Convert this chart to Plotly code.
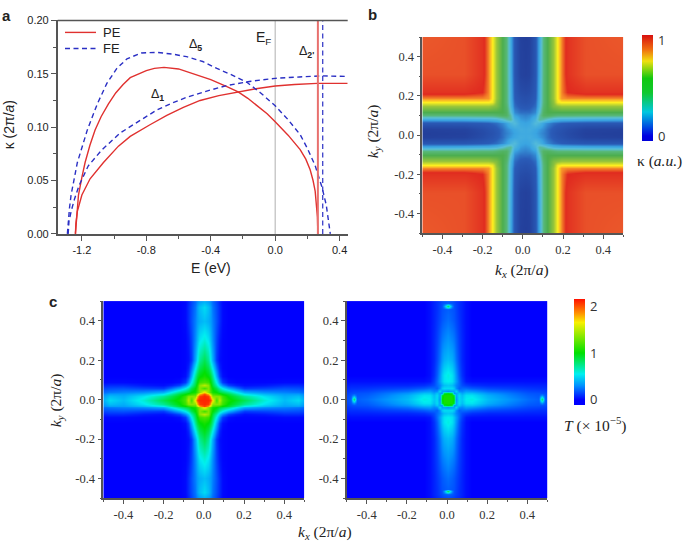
import numpy as np
import plotly.graph_objects as go

W, H = 685, 548

# panel a: energy (eV), kappa (2pi/a)
pe_d5_e = [-1.24, -1.236, -1.23, -1.221, -1.2, -1.18, -1.15, -1.118, -1.08, -1.035, -0.99, -0.944, -0.9, -0.8, -0.75, -0.69, -0.6, -0.5, -0.4, -0.3, -0.23, -0.17, -0.11, -0.05, 0.0, 0.08, 0.155, 0.19, 0.217, 0.235, 0.248, 0.262, 0.265]
pe_d5_k = [0.0, 0.01, 0.022, 0.0364, 0.053, 0.0669, 0.083, 0.0974, 0.11, 0.1218, 0.132, 0.14, 0.1463, 0.153, 0.155, 0.156, 0.1545, 0.1495, 0.1445, 0.138, 0.133, 0.127, 0.12, 0.1125, 0.105, 0.0925, 0.079, 0.07, 0.06, 0.05, 0.04, 0.016, 0.0]
pe_d1_e = [-1.24, -1.237, -1.228, -1.2, -1.149, -1.066, -0.973, -0.9, -0.78, -0.673, -0.57, -0.466, -0.35, -0.23, -0.12, 0.0, 0.12, 0.26, 0.45]
pe_d1_k = [0.0, 0.01, 0.0211, 0.0364, 0.0516, 0.0669, 0.0822, 0.0913, 0.102, 0.111, 0.1185, 0.125, 0.1295, 0.133, 0.136, 0.1385, 0.14, 0.141, 0.141]
fe_d5_e = [-1.29, -1.285, -1.277, -1.267, -1.228, -1.166, -1.104, -1.045, -0.983, -0.92, -0.83, -0.735, -0.64, -0.55, -0.45, -0.362, -0.27, -0.176, -0.09, 0.0, 0.08, 0.155, 0.2, 0.248, 0.29, 0.317, 0.335, 0.342]
fe_d5_k = [0.0, 0.012, 0.024, 0.0364, 0.0669, 0.0974, 0.1218, 0.141, 0.155, 0.164, 0.1695, 0.17, 0.1685, 0.166, 0.1615, 0.155, 0.149, 0.142, 0.132, 0.12, 0.107, 0.093, 0.08, 0.064, 0.044, 0.027, 0.01, 0.0]
fe_d1_e = [-1.285, -1.28, -1.265, -1.245, -1.217, -1.16, -1.077, -0.963, -0.9, -0.735, -0.64, -0.549, -0.42, -0.3, -0.15, 0.0, 0.15, 0.29, 0.45]
fe_d1_k = [0.0, 0.012, 0.022, 0.033, 0.0455, 0.0638, 0.0785, 0.0944, 0.1005, 0.116, 0.1225, 0.128, 0.134, 0.139, 0.143, 0.1457, 0.147, 0.148, 0.1475]
pe_d2_e = 0.265
fe_d2_e = 0.295
fermi_e = 0.0

# panel b, one quadrant of the map, mirrored about its centre
kb = [0, 0.02, 0.05, 0.07, 0.09, 0.11, 0.14, 0.16, 0.18, 0.21, 0.3, 0.52]
zb = [
    [.22, .22, .20, .18, .16, .14, .10, .08, .07, .05, .01, .00],
    [.22, .23, .21, .19, .17, .14, .11, .09, .08, .06, .02, .01],
    [.20, .21, .28, .25, .20, .17, .14, .13, .12, .11, .10, .10],
    [.18, .19, .25, .38, .36, .31, .26, .25, .24, .24, .23, .22],
    [.16, .17, .20, .36, .47, .48, .45, .43, .43, .43, .42, .42],
    [.14, .14, .17, .31, .48, .53, .53, .53, .53, .53, .53, .53],
    [.10, .11, .14, .26, .45, .53, .60, .62, .64, .64, .64, .64],
    [.08, .09, .13, .25, .43, .53, .62, .74, .76, .76, .76, .76],
    [.07, .08, .12, .24, .43, .53, .64, .76, .84, .85, .85, .85],
    [.05, .06, .11, .24, .43, .53, .64, .76, .85, .90, .92, .92],
    [.01, .02, .10, .23, .42, .53, .64, .76, .85, .92, .98, .98],
    [.00, .01, .10, .22, .42, .53, .64, .76, .85, .92, .98, 1.0],
]
centre_b = 0.01

# panel c left
kc1 = [0, .02, .03, .04, .06, .075, .09, .12, .16, .2, .3, .4, .47, .52]
zc1 = [
    [2.1, 2.1, 2.05, 1.7, 1.15, 1.5, 1.2, 1.05, .95, .85, .6, .42, .5, .3],
    [2.1, 2.05, 1.8, 1.35, 1.35, 1.35, 1.15, .98, .85, .72, .52, .38, .42, .27],
    [2.05, 1.8, 1.5, 1.2, 1.15, 1.1, 1.0, .9, .72, .55, .42, .34, .35, .24],
    [1.7, 1.35, 1.2, 1.05, 1.0, .9, .85, .74, .55, .38, .3, .27, .25, .2],
    [1.15, 1.35, 1.15, 1.0, .85, .68, .55, .38, .24, .12, .14, .17, .16, .13],
    [1.5, 1.35, 1.1, .9, .68, .45, .3, .14, .07, .03, .05, .09, .09, .06],
    [1.2, 1.15, 1.0, .85, .55, .3, .12, .03, .01, .01, .01, .02, .02, .01],
    [1.05, .98, .9, .74, .38, .14, .03, 0, 0, 0, 0, 0, 0, 0],
    [.95, .85, .72, .55, .24, .07, .01, 0, 0, 0, 0, 0, 0, 0],
    [.85, .72, .55, .38, .12, .03, .01, 0, 0, 0, 0, 0, 0, 0],
    [.6, .52, .42, .3, .14, .05, .01, 0, 0, 0, 0, 0, 0, 0],
    [.42, .38, .34, .27, .17, .09, .02, 0, 0, 0, 0, 0, 0, 0],
    [.5, .42, .35, .25, .16, .09, .02, 0, 0, 0, 0, 0, 0, 0],
    [.3, .27, .24, .2, .13, .06, .01, 0, 0, 0, 0, 0, 0, 0],
]

# panel c right
kc2 = [0, .02, .03, .04, .055, .07, .09, .12, .2, .3, .4, .455, .47, .485, .52]
zc2 = [
    [1.05, 1.05, 1.0, .3, .5, .45, .55, .58, .42, .32, .23, .2, .85, .2, .12],
    [1.05, 1.05, .9, .35, .5, .42, .52, .52, .38, .28, .2, .18, .3, .18, .11],
    [1.0, .9, .3, .35, .45, .36, .44, .44, .32, .25, .18, .17, .17, .16, .1],
    [.3, .35, .35, .5, .3, .28, .34, .32, .24, .2, .15, .14, .14, .13, .09],
    [.5, .5, .45, .3, .2, .22, .22, .19, .15, .13, .11, .1, .1, .1, .07],
    [.45, .42, .36, .28, .22, .16, .13, .1, .08, .08, .07, .07, .07, .07, .05],
    [.55, .52, .44, .34, .22, .13, .05, .03, .03, .03, .03, .03, .03, .03, .02],
    [.58, .52, .44, .32, .19, .1, .03, 0, 0, 0, 0, 0, 0, 0, 0],
    [.42, .38, .32, .24, .15, .08, .03, 0, 0, 0, 0, 0, 0, 0, 0],
    [.32, .28, .25, .2, .13, .08, .03, 0, 0, 0, 0, 0, 0, 0, 0],
    [.23, .2, .18, .15, .11, .07, .03, 0, 0, 0, 0, 0, 0, 0, 0],
    [.2, .18, .17, .14, .1, .07, .03, 0, 0, 0, 0, 0, 0, 0, 0],
    [.85, .3, .17, .14, .1, .07, .03, 0, 0, 0, 0, 0, 0, 0, 0],
    [.2, .18, .16, .13, .1, .07, .03, 0, 0, 0, 0, 0, 0, 0, 0],
    [.12, .11, .1, .09, .07, .05, .02, 0, 0, 0, 0, 0, 0, 0, 0],
]

map_ticks = [-0.4, -0.2, 0.0, 0.2, 0.4]
map_tick_labels = ["-0.4", "-0.2", "0.0", "0.2", "0.4"]

RED = "#e0312f"
BLUE = "#2a2fc4"
AXIS = "#555555"
SANS = "Liberation Sans"
SERIF = "Liberation Serif"
DASH = "5px,3.5px"


def mirror(k, q, centre=0.0):
    k = np.array(k)
    q = np.array(q)
    coord = np.r_[-k[:0:-1], k] + centre
    full = np.r_[q[:0:-1], q]
    full = np.c_[full[:, :0:-1], full]
    return coord, full


def scale(stops, lo, hi):
    return [[(v - lo) / (hi - lo), c] for v, c in stops]


# the map in b is a bit more washed out than its colour bar
b_map_scale = [[0, "#233f9b"], [.12, "#2a5cb8"], [.2, "#3aa5e2"], [.3, "#5ac0d8"], [.42, "#58b878"],
               [.53, "#4cae4f"], [.64, "#9ac63a"], [.76, "#fff01f"], [.84, "#f8982a"], [.90, "#e0291f"],
               [1, "#eb5a2b"]]
b_bar_lo, b_bar_hi = -0.052, 1.052
b_bar_scale = scale([(-0.052, "#0000d8"), (0, "#0000e0"), (.25, "#00c8e0"), (.45, "#10c830"), (.6, "#10c810"),
                     (.78, "#f0e010"), (.9, "#f07010"), (1.052, "#d81010")], b_bar_lo, b_bar_hi)
c_lo, c_hi = -0.11, 2.15
c_scale = scale([(-0.11, "#0000ff"), (0, "#0000ff"), (.3, "#0090ff"), (.55, "#00f0f0"), (1.0, "#00e000"),
                 (1.65, "#f8f000"), (1.85, "#ff9000"), (2.15, "#ff1000")], c_lo, c_hi)


def px_x(p):
    return p / W


def px_y(p):
    return 1 - p / H


def label(x, y, text, size=12, family=SANS, angle=0, color="#222222", anchor="center"):
    return dict(x=px_x(x), y=px_y(y), xref="paper", yref="paper", text=text, showarrow=False,
                textangle=angle, font=dict(size=size, family=family, color=color),
                xanchor=anchor, yanchor="middle")


def map_axis(left, right):
    return dict(domain=[px_x(left), px_x(right)], range=[-0.5, 0.5], tickvals=map_ticks, ticktext=map_tick_labels,
                ticks="outside", ticklen=4, tickwidth=1, tickcolor=AXIS, showline=True, linecolor=AXIS, linewidth=1.5,
                showgrid=False, zeroline=False, tickfont=dict(size=12.5, family=SERIF, color="#333333"),
                minor=dict(tickvals=[-0.5, -0.3, -0.1, 0.1, 0.3, 0.5], ticks="outside", ticklen=2, tickcolor=AXIS))


def map_yaxis(top, bottom, anchor):
    ax = map_axis(0, 1)
    ax["domain"] = [px_y(bottom), px_y(top)]
    ax["anchor"] = anchor
    return ax


def bar(x, bottom, vals, text):
    return dict(x=px_x(x), xanchor="left", y=px_y(bottom), yanchor="bottom",
                thickness=10.5, thicknessmode="pixels", len=106, lenmode="pixels",
                outlinewidth=0, tickvals=vals, ticktext=text, ticks="outside", ticklen=3,
                tickcolor="rgba(0,0,0,0)", xpad=0, ypad=0,
                tickfont=dict(size=13, family="Open Sans", color="#333333"))


fig = go.Figure()

# panel a
fig.add_trace(go.Scatter(x=[fermi_e, fermi_e], y=[0, 0.2], mode="lines", line=dict(color="#bdbdbd", width=1.2)))
fig.add_trace(go.Scatter(x=pe_d5_e, y=pe_d5_k, mode="lines", name="PE", line=dict(color=RED, width=1.4)))
fig.add_trace(go.Scatter(x=pe_d1_e, y=pe_d1_k, mode="lines", line=dict(color=RED, width=1.4)))
fig.add_trace(go.Scatter(x=fe_d5_e, y=fe_d5_k, mode="lines", name="FE", line=dict(color=BLUE, width=1.4, dash=DASH)))
fig.add_trace(go.Scatter(x=fe_d1_e, y=fe_d1_k, mode="lines", line=dict(color=BLUE, width=1.4, dash=DASH)))
fig.add_trace(go.Scatter(x=[pe_d2_e, pe_d2_e], y=[0, 0.2], mode="lines", line=dict(color="#e8706e", width=2)))
fig.add_trace(go.Scatter(x=[fe_d2_e, fe_d2_e], y=[0, 0.2], mode="lines", line=dict(color=BLUE, width=1.2, dash=DASH)))

# panel b
xb, zb_full = mirror(kb, zb, centre_b)
fig.add_trace(go.Heatmap(x=xb, y=xb, z=zb_full, zmin=0, zmax=1, colorscale=b_map_scale, zsmooth="best",
                         showscale=False, xaxis="x2", yaxis="y2"))
fig.add_trace(go.Scatter(x=[None], y=[None], mode="markers", xaxis="x2", yaxis="y2",
                         marker=dict(color=[0, 1], cmin=b_bar_lo, cmax=b_bar_hi, colorscale=b_bar_scale, showscale=True,
                                     colorbar=bar(642, 138, [0, 1], ["0", "1"]))))

# panel c
xc1, zc1_full = mirror(kc1, zc1)
fig.add_trace(go.Heatmap(x=xc1, y=xc1, z=zc1_full, zmin=c_lo, zmax=c_hi, colorscale=c_scale, zsmooth="best",
                         xaxis="x3", yaxis="y3", showscale=False))
xc2, zc2_full = mirror(kc2, zc2, 0.004)
fig.add_trace(go.Heatmap(x=xc2, y=xc2, z=zc2_full, zmin=c_lo, zmax=c_hi, colorscale=c_scale, zsmooth="best",
                         xaxis="x4", yaxis="y4", showscale=True, colorbar=bar(574, 408, [0, 1, 2], ["0", "1", "2"])))

mono = "<i>k</i><sub><i>%s</i></sub> (2π/<i>a</i>)"
annotations = [
    label(6, 10, "<b>a</b>", size=15),
    label(372, 9, "<b>b</b>", size=15),
    label(53, 302, "<b>c</b>", size=15),
    label(101, 27, "PE", size=13, anchor="left"),
    label(101, 43, "FE", size=13, anchor="left"),
    label(211, 268, "E (eV)", size=14),
    label(9, 122, "κ (2π/<i>a</i>)", size=14, angle=-90),
    label(195, 40, "Δ<sub><b>5</b></sub>", size=12.5),
    label(157, 91, "Δ<sub><b>1</b></sub>", size=12.5),
    label(263, 33, "E<sub>F</sub>", size=14),
    label(306, 47, "Δ<sub><b>2'</b></sub>", size=12.5),
    label(522, 270, mono % "x", size=15.5, family=SERIF),
    label(373, 128, mono % "y", size=15.5, family=SERIF, angle=-90),
    label(56, 403, mono % "y", size=15.5, family=SERIF, angle=-90),
    label(325, 538, mono % "x", size=15.5, family=SERIF),
    label(659, 158, "κ (<i>a.u.</i>)", size=15.5, family=SERIF),
    label(595, 428, "<i>T</i> (× 10<sup>−5</sup>)", size=15.5, family=SERIF),
]

shapes = [
    dict(type="line", xref="x domain", yref="y domain", x0=0, x1=1, y0=1, y1=1, line=dict(color=AXIS, width=1.5)),
    dict(type="line", xref="paper", yref="paper", x0=px_x(65), x1=px_x(96), y0=px_y(27), y1=px_y(27), line=dict(color=RED, width=1.4)),
    dict(type="line", xref="paper", yref="paper", x0=px_x(65), x1=px_x(96), y0=px_y(43.5), y1=px_y(43.5), line=dict(color=BLUE, width=1.4, dash=DASH)),
]

fig.update_layout(
    width=W, height=H, margin=dict(l=0, r=0, t=0, b=0), autosize=False,
    paper_bgcolor="white", plot_bgcolor="white",
    showlegend=False,
    xaxis=dict(domain=[px_x(57.7), px_x(347.7)], range=[-1.35, 0.45], tickvals=[-1.2, -0.8, -0.4, 0.0, 0.4],
               ticktext=["-1.2", "-0.8", "-0.4", "0.0", "0.4"], ticks="outside", ticklen=5, tickcolor=AXIS,
               showline=True, linecolor=AXIS, linewidth=1.5, showgrid=False, zeroline=False,
               tickfont=dict(size=11, family=SANS, color="#222222"),
               minor=dict(tickvals=[-1.0, -0.6, -0.2, 0.2], ticks="outside", ticklen=3, tickcolor=AXIS)),
    yaxis=dict(domain=[px_y(233), px_y(14.7)], range=[0, 0.2], tickvals=[0, 0.05, 0.1, 0.15, 0.2],
               ticktext=["0.00", "0.05", "0.10", "0.15", "0.20"], ticks="outside", ticklen=5, tickcolor=AXIS,
               showline=True, linecolor=AXIS, linewidth=1.5, showgrid=False, zeroline=False,
               tickfont=dict(size=11, family=SANS, color="#222222"),
               minor=dict(tickvals=[0.025, 0.075, 0.125, 0.175], ticks="outside", ticklen=3, tickcolor=AXIS)),
    xaxis2=dict(map_axis(422.3, 623.3), anchor="y2"),
    yaxis2=map_yaxis(31.7, 232.3, "x2"),
    xaxis3=dict(map_axis(103.3, 304.3), anchor="y3"),
    yaxis3=map_yaxis(301.7, 503.3, "x3"),
    xaxis4=dict(map_axis(346.7, 547.3), anchor="y4"),
    yaxis4=map_yaxis(301.7, 503.3, "x4"),
    annotations=annotations,
    shapes=shapes,
)

fig.write_html("out.html", config={"displayModeBar": False}, post_script="document.body.style.margin='0';")
